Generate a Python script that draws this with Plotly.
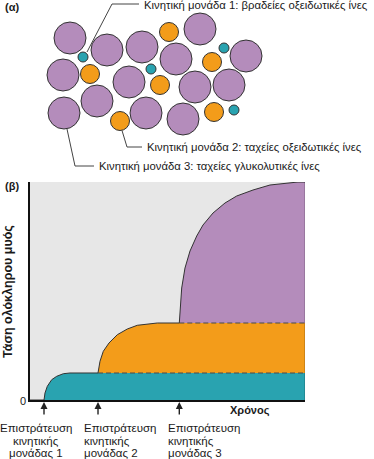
import plotly.graph_objects as go

# ---------------- data ----------------
# (a) muscle cross-section: fibre centres (illustration units) per motor unit
slow_ox_x = [83, 224, 151, 234]
slow_ox_y = [57, 48, 69, 110]
fast_ox_x = [169, 90, 212, 160, 214, 120]
fast_ox_y = [32, 74, 62, 85, 112, 121]
fast_gly_x = [70, 107, 142, 200, 176, 246, 63, 129, 195, 229, 97, 64, 146, 183]
fast_gly_y = [38, 50, 47, 29, 59, 56, 75, 82, 87, 85, 101, 113, 113, 119]
fibre_radius = {"slow": 5, "fastox": 9.5, "fastgly": 16}

unit_labels = [
    "Κινητική μονάδα 1: βραδείες οξειδωτικές ίνες",
    "Κινητική μονάδα 2: ταχείες οξειδωτικές ίνες",
    "Κινητική μονάδα 3: ταχείες γλυκολυτικές ίνες",
]

# (b) whole-muscle tension (cumulative boundaries), time in arbitrary units
mu1_time = [5.09, 5.45, 6.29, 7.89, 9.71, 12.11, 14.55]
mu1_tension = [0, 3.21, 6.28, 9.31, 10.87, 12.06, 12.39]
mu2_time = [24.73, 25.45, 26.65, 28.73, 31.75, 35.38, 39.02, 43.89, 46.29]
mu2_tension = [12.39, 17.75, 22.34, 26.15, 29.95, 32.57, 34.27, 35.0, 35.32]
mu3_time = [54.29, 55.16, 56.36, 58.18, 60.62, 62.91, 66.55, 70.91, 75.16,
            81.09, 87.27, 93.35, 97.45]
mu3_tension = [35.32, 51.38, 60.55, 68.35, 75.23, 80.28, 85.78, 90.37, 93.58,
               96.33, 98.62, 99.54, 100]
t_end = 100
recruit_times = [mu1_time[0], mu2_time[0], mu3_time[0]]
recruit_labels = [
    ["Επιστράτευση", "κινητικής", "μονάδας 1"],
    ["Επιστράτευση", "κινητικής", "μονάδας 2"],
    ["Επιστράτευση", "κινητικής", "μονάδας 3"],
]

# ---------------- styling ----------------
W, H = 374, 459
PURPLE = "#b48cbb"
ORANGE = "#f39c1a"
TEAL = "#29a3b0"
BG = "#e7e7e7"
OUT = "#333333"
FONT = "Liberation Sans, Arial, Helvetica, sans-serif"

fig = go.Figure()

# cumulative boundaries
b1_x = [0] + mu1_time + [t_end]
b1_y = [0] + mu1_tension + [mu1_tension[-1]]
b2_x = [0] + mu1_time + mu2_time + [t_end]
b2_y = [0] + mu1_tension + mu2_tension + [mu2_tension[-1]]
b3_x = [0] + mu1_time + mu2_time + mu3_time + [t_end]
b3_y = [0] + mu1_tension + mu2_tension + mu3_tension + [mu3_tension[-1]]

fig.add_trace(go.Scatter(x=b1_x, y=b1_y, mode="lines", fill="tozeroy",
                         fillcolor=TEAL, line=dict(width=0), hoverinfo="skip",
                         showlegend=False))
fig.add_trace(go.Scatter(x=b2_x, y=b2_y, mode="lines", fill="tonexty",
                         fillcolor=ORANGE, line=dict(width=0), hoverinfo="skip",
                         showlegend=False))
fig.add_trace(go.Scatter(x=b3_x, y=b3_y, mode="lines", fill="tonexty",
                         fillcolor=PURPLE, line=dict(width=0), hoverinfo="skip",
                         showlegend=False))
# envelope outline
fig.add_trace(go.Scatter(x=b3_x, y=b3_y, mode="lines",
                         line=dict(color=OUT, width=1), hoverinfo="skip",
                         showlegend=False))
# dashed boundaries between motor units
fig.add_trace(go.Scatter(x=[mu2_time[0], t_end], y=[mu1_tension[-1]] * 2,
                         mode="lines", line=dict(color="#4a4a4a", width=1.2, dash="5px,3px"),
                         hoverinfo="skip", showlegend=False))
fig.add_trace(go.Scatter(x=[mu3_time[0], t_end], y=[mu2_tension[-1]] * 2,
                         mode="lines", line=dict(color="#4a4a4a", width=1.2, dash="5px,3px"),
                         hoverinfo="skip", showlegend=False))
# dummy trace for the pixel-space overlay subplot
fig.add_trace(go.Scatter(x=[], y=[], xaxis="x2", yaxis="y2", showlegend=False,
                         hoverinfo="skip"))

shapes = []
# panel (b) grey background
shapes.append(dict(type="rect", xref="x", yref="y", x0=0, x1=t_end, y0=0, y1=100,
                   fillcolor=BG, line=dict(width=0), layer="below"))
# right edge
shapes.append(dict(type="line", xref="x", yref="y", x0=t_end, x1=t_end, y0=0, y1=100,
                   line=dict(color="rgba(0,0,0,0.3)", width=1)))

# panel (a) fibres
def add_circles(xs, ys, r, color):
    for cx, cy in zip(xs, ys):
        shapes.append(dict(type="circle", xref="x2", yref="y2",
                           x0=cx - r, x1=cx + r, y0=cy - r, y1=cy + r,
                           fillcolor=color, line=dict(color=OUT, width=1)))

add_circles(fast_gly_x, fast_gly_y, fibre_radius["fastgly"], PURPLE)
add_circles(fast_ox_x, fast_ox_y, fibre_radius["fastox"], ORANGE)
add_circles(slow_ox_x, slow_ox_y, fibre_radius["slow"], TEAL)

# leader lines
LEAD = "#444444"
for path in ["M 87 52 L 112 4 L 139 4",
             "M 122 130.5 L 127 147 L 142 147",
             "M 67 129 L 75 166 L 94 166"]:
    shapes.append(dict(type="path", xref="x2", yref="y2", path=path,
                       line=dict(color=LEAD, width=1)))

annotations = []
def txt(x, y, s, size=11, xanchor="left", bold=False, angle=0, pad=1):
    annotations.append(dict(xref="x2", yref="y2", x=x, y=y,
                            text=f"<b>{s}</b>" if bold else s,
                            showarrow=False, xanchor=xanchor, yanchor="middle",
                            textangle=angle, borderpad=pad,
                            font=dict(family=FONT, size=size, color="#1a1a1a")))

txt(3, 7, "(α)", bold=True)
txt(3, 186, "(β)", bold=True)
txt(142, 5, unit_labels[0], size=11.3)
txt(145, 147, unit_labels[1], size=11.3)
txt(97, 166, unit_labels[2], size=11.3)
txt(8, 292, "Τάση ολόκληρου μυός", xanchor="center", bold=True, angle=-90, size=12.5)
txt(23, 401, "0", xanchor="center")
txt(250, 410, "Χρόνος", xanchor="center", bold=True)

# recruitment arrows (head just below the time axis)
for t in recruit_times:
    annotations.append(dict(xref="x", yref="paper", x=t, y=1 - 402 / H,
                            ax=0, ay=14, text="",
                            showarrow=True, arrowhead=2, arrowsize=1,
                            arrowwidth=1.4, arrowcolor="#222222"))

# recruitment labels
label_pos = [(36, "center"), (83, "left"), (167, "left")]
line_y = [428, 440.5, 452.5]
for (lx, anchor), lines in zip(label_pos, recruit_labels):
    for ly, s in zip(line_y, lines):
        txt(lx, ly, s, xanchor=anchor, size=11.5, pad=0)

fig.update_layout(
    width=W, height=H, margin=dict(l=0, r=0, t=0, b=0),
    paper_bgcolor="white", plot_bgcolor="rgba(0,0,0,0)",
    showlegend=False,
    xaxis=dict(domain=[30 / W, 305 / W], range=[0, t_end], showgrid=False,
               zeroline=False, showticklabels=False, ticks="",
               showline=True, linecolor="#111111", linewidth=1.5, fixedrange=True),
    yaxis=dict(domain=[1 - 400 / H, 1 - 182 / H], range=[0, 100], showgrid=False,
               zeroline=False, showticklabels=False, ticks="",
               showline=True, linecolor="#111111", linewidth=1.5, fixedrange=True),
    xaxis2=dict(domain=[0, 1], range=[0, W], visible=False, anchor="y2",
                fixedrange=True),
    yaxis2=dict(domain=[0, 1], range=[H, 0], visible=False, anchor="x2",
                fixedrange=True),
    shapes=shapes,
    annotations=annotations,
)

fig.write_html("out.html", config={"displayModeBar": False},
               post_script="document.body.style.margin='0';"
                           "document.body.style.overflow='hidden';"
                           "document.documentElement.style.overflow='hidden';")
